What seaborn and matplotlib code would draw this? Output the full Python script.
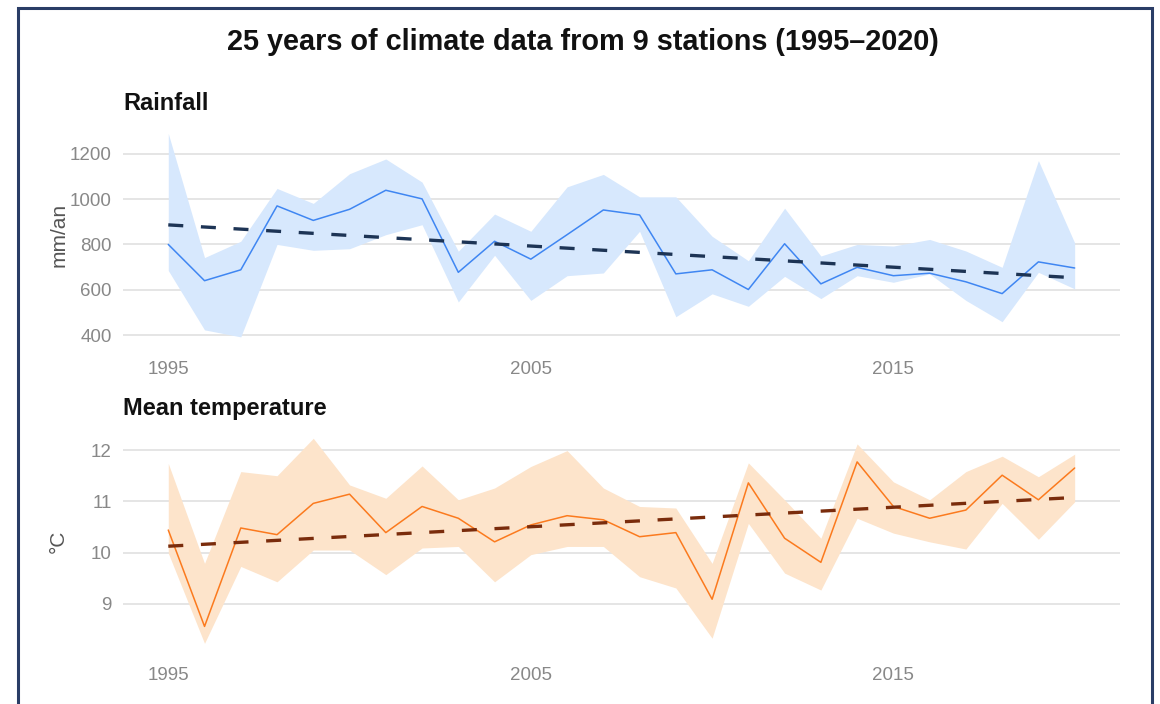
import numpy as np
import pandas as pd
import seaborn as sns
import matplotlib.pyplot as plt
from matplotlib.patches import Rectangle

# Yearly values, mean of 9 stations, with min/max band
years = list(range(1995, 2021))

rain_mean = [800, 640, 688, 970, 906, 955, 1039, 1001, 677, 814, 735, 843, 952,
             930, 670, 688, 601, 803, 626, 699, 662, 673, 635, 583, 723, 696]
rain_high = [1290, 742, 814, 1047, 981, 1112, 1177, 1075, 770, 934, 858, 1054, 1109,
             1010, 1010, 836, 728, 960, 749, 800, 793, 822, 771, 699, 1170, 807]
rain_low = [685, 423, 392, 800, 774, 781, 843, 887, 546, 752, 553, 662, 674,
            858, 481, 582, 527, 659, 561, 662, 633, 670, 553, 459, 677, 604]

temp_mean = [10.44, 8.56, 10.48, 10.35, 10.96, 11.14, 10.39, 10.90, 10.67, 10.21, 10.54, 10.72, 10.64,
             10.31, 10.39, 9.09, 11.36, 10.28, 9.81, 11.77, 10.90, 10.67, 10.83, 11.51, 11.03, 11.65]
temp_high = [11.74, 9.79, 11.58, 11.50, 12.23, 11.32, 11.06, 11.69, 11.03, 11.26, 11.68, 11.99, 11.26,
             10.90, 10.87, 9.79, 11.75, 11.03, 10.28, 12.12, 11.38, 11.03, 11.58, 11.88, 11.48, 11.92]
temp_low = [9.99, 8.23, 9.73, 9.43, 10.05, 10.05, 9.57, 10.09, 10.12, 9.43, 9.96, 10.12, 10.12,
            9.53, 9.31, 8.33, 10.57, 9.60, 9.27, 10.67, 10.38, 10.21, 10.07, 10.96, 10.26, 10.99]

rain = pd.DataFrame({'year': years, 'mean': rain_mean, 'low': rain_low, 'high': rain_high})
temp = pd.DataFrame({'year': years, 'mean': temp_mean, 'low': temp_low, 'high': temp_high})

sns.set_theme(style='white')
plt.rcParams['font.family'] = ['Liberation Sans', 'DejaVu Sans']

fig = plt.figure(figsize=(11.6, 7.04), dpi=100)
ax1 = fig.add_axes([0.106, 0.507, 0.8595, 0.318])
ax2 = fig.add_axes([0.106, 0.0716, 0.8595, 0.3204])

panels = [
    (ax1, rain, 'Rainfall', 'mm/an', '#3f86f2', '#d7e8fd', '#1d3455', [400, 600, 800, 1000, 1200]),
    (ax2, temp, 'Mean temperature', '°C', '#fb7a1e', '#fde4cb', '#7a2c0c', [9, 10, 11, 12]),
]

for ax, df, title, ylabel, line_col, band_col, trend_col, yticks in panels:
    ax.fill_between(df['year'], df['low'], df['high'], color=band_col, lw=0, zorder=1)
    sns.lineplot(data=df, x='year', y='mean', ax=ax, color=line_col, lw=1.1, zorder=3)
    sns.regplot(data=df, x='year', y='mean', ax=ax, scatter=False, ci=None,
                line_kws=dict(color=trend_col, lw=2.4, ls=(0, (4.5, 5.3)), zorder=4))
    ax.margins(x=0.05, y=0.05)
    ax.set_xticks([1995, 2005, 2015])
    ax.set_yticks(yticks)
    ax.grid(axis='y', color='#e3e3e3', lw=1.3)
    ax.grid(axis='x', visible=False)
    ax.set_axisbelow(True)
    sns.despine(ax=ax, left=True, bottom=True)
    ax.tick_params(axis='both', length=0, labelsize=13.5, labelcolor='#888888')
    ax.tick_params(axis='x', pad=10)
    ax.tick_params(axis='y', pad=8)
    ax.set_xlabel('')
    ax.set_ylabel(ylabel, fontsize=15, color='#555555')
    ax.yaxis.set_label_coords(-0.055, 0.5)
    ax.set_title(title, loc='left', fontsize=17, fontweight='bold', color='#111111', pad=9.5)

fig.text(0.5026, 0.929, '25 years of climate data from 9 stations (1995–2020)',
         ha='center', va='baseline', fontsize=20.8, fontweight='bold', color='#111111')

# frame around the chart
fig.patches.append(Rectangle((0.0155, -0.05), 0.978, 1.0386, transform=fig.transFigure,
                             fill=False, edgecolor='#2a3d66', lw=2.2))

fig.savefig('out.png', dpi=100)
